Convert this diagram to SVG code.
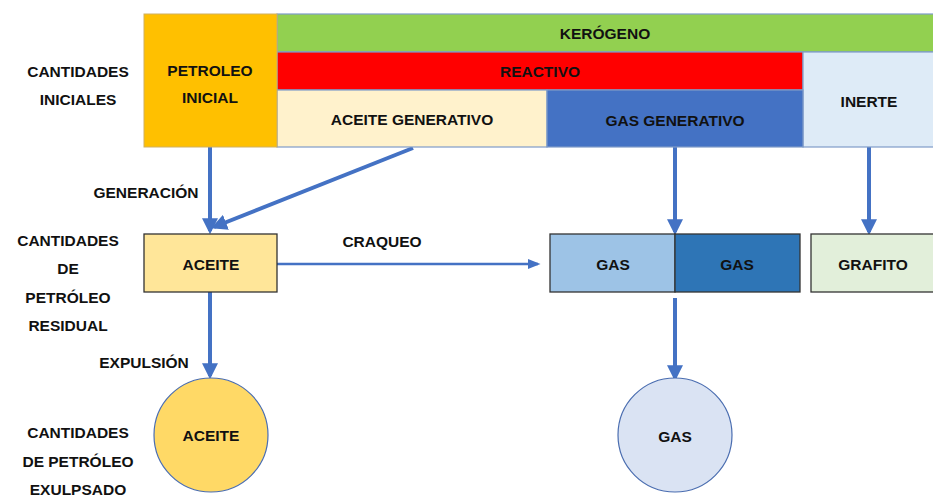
<svg xmlns="http://www.w3.org/2000/svg" width="933" height="498" viewBox="0 0 933 498">
<style>
text{font-family:"Liberation Sans",Arial,sans-serif;font-weight:bold;font-size:15.5px;fill:#111;text-anchor:middle;dominant-baseline:central}
.top{stroke:#7F9CC8;stroke-width:1.2}
.box{stroke:#333;stroke-width:1.3}
.conn{stroke:#4472C4;fill:none}
</style>
<defs>
<marker id="ah" markerWidth="4" markerHeight="4" refX="3.2" refY="2" orient="auto" markerUnits="strokeWidth"><path d="M0,0 L4,2 L0,4 z" fill="#4472C4"/></marker>
<marker id="ahs" markerWidth="5" markerHeight="5" refX="4" refY="2.5" orient="auto" markerUnits="strokeWidth"><path d="M0,0.5 L5,2.5 L0,4.5 z" fill="#4472C4"/></marker>
</defs>
<rect width="933" height="498" fill="#fff"/>

<g id="labels">
<text x="78" y="71">CANTIDADES</text>
<text x="78" y="99">INICIALES</text>
<text x="146" y="192">GENERACIÓN</text>
<text x="68" y="240">CANTIDADES</text>
<text x="68" y="268">DE</text>
<text x="68" y="297">PETRÓLEO</text>
<text x="68" y="325">RESIDUAL</text>
<text x="382" y="241">CRAQUEO</text>
<text x="144" y="362">EXPULSIÓN</text>
<text x="78" y="432">CANTIDADES</text>
<text x="78" y="461">DE PETRÓLEO</text>
<text x="78" y="489">EXULPSADO</text>
</g>

<g id="connectors">
<line class="conn" x1="210" y1="147" x2="210" y2="231" stroke-width="4" marker-end="url(#ah)"/>
<line class="conn" x1="413" y1="148" x2="214" y2="227" stroke-width="4" marker-end="url(#ah)"/>
<line class="conn" x1="675" y1="147" x2="675" y2="232" stroke-width="4" marker-end="url(#ah)"/>
<line class="conn" x1="869" y1="147" x2="869" y2="232" stroke-width="4" marker-end="url(#ah)"/>
<line class="conn" x1="277" y1="264" x2="538" y2="264" stroke-width="2.5" marker-end="url(#ahs)"/>
<line class="conn" x1="210" y1="292" x2="210" y2="376" stroke-width="4" marker-end="url(#ah)"/>
<line class="conn" x1="675" y1="298" x2="675" y2="378" stroke-width="4" marker-end="url(#ah)"/>
</g>

<g id="kerogeno"><rect class="top" x="277" y="14" width="660" height="38" fill="#92D050"/><text x="605" y="33">KERÓGENO</text></g>
<g id="reactivo"><rect class="top" x="277" y="52" width="526" height="38" fill="#FF0000"/><text x="540" y="71">REACTIVO</text></g>
<g id="inerte"><rect class="top" x="803" y="52" width="134" height="95" fill="#DEEBF7"/><text x="869" y="101">INERTE</text></g>
<g id="aceite-generativo"><rect class="top" x="277" y="90" width="270" height="57" fill="#FFF2CC"/><text x="412" y="119">ACEITE GENERATIVO</text></g>
<g id="gas-generativo"><rect class="top" x="547" y="90" width="256" height="57" fill="#4472C4"/><text x="675" y="120">GAS GENERATIVO</text></g>
<g id="petroleo-inicial"><rect x="144" y="14" width="133" height="133" fill="#FFC000" stroke="#D0B060" stroke-width="1"/><text x="210" y="70">PETROLEO</text><text x="210" y="97">INICIAL</text></g>

<g id="aceite-residual"><rect class="box" x="144" y="234" width="133" height="58" fill="#FFE699"/><text x="211" y="264">ACEITE</text></g>
<g id="gas-1"><rect class="box" x="550" y="234" width="125" height="58" fill="#9DC3E6"/><text x="613" y="264">GAS</text></g>
<g id="gas-2"><rect class="box" x="675" y="234" width="125" height="58" fill="#2E75B6"/><text x="737" y="264">GAS</text></g>
<g id="grafito"><rect class="box" x="811" y="234" width="126" height="58" fill="#E2EFDA"/><text x="873" y="264">GRAFITO</text></g>

<g id="aceite-expulsado"><circle cx="211" cy="435" r="57" fill="#FFD966" stroke="#4A6DB0" stroke-width="1.2"/><text x="211" y="435">ACEITE</text></g>
<g id="gas-expulsado"><circle cx="675" cy="435" r="57" fill="#DAE3F3" stroke="#4A6DB0" stroke-width="1.2"/><text x="675" y="436">GAS</text></g>
</svg>
